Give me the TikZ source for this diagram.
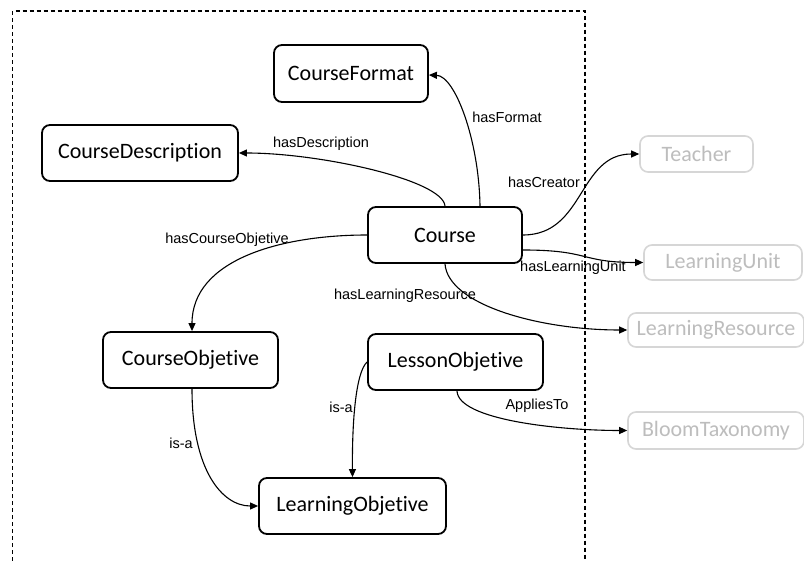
\documentclass[tikz,border=0pt]{standalone}
\usepackage{fontspec}
\setmainfont{Carlito}[Ligatures=NoCommon]
\newfontfamily\labfont{Liberation Sans}
\usetikzlibrary{arrows.meta}
\definecolor{boxgray}{HTML}{D6D6D6}
\definecolor{textgray}{HTML}{BDBDBD}
\begin{document}
\begin{tikzpicture}[x=1pt,y=-1pt,
  box/.style={draw, line width=1.8pt, rounded corners=8pt, inner sep=0pt, font=\fontsize{22}{24}\selectfont, anchor=center},
  gbox/.style={box, draw=boxgray, text=textgray, line width=1.6pt},
  lab/.style={font=\labfont\fontsize{14.5}{16}\selectfont, inner sep=0pt, anchor=center},
  rel/.style={line width=1.1pt, -{Triangle[length=8pt,width=7pt]}}]
\useasboundingbox (0,0) rectangle (804,561);
\fill[white] (0,0) rectangle (804,561);
% frame
\draw[line width=1.2pt, dash pattern=on 4pt off 3pt] (12.7,561) -- (12.7,11) -- (585,11) -- (585,561);
% nodes
\node[box, minimum width=154pt, minimum height=57pt] (fmt) at (351,73.5) {CourseFormat};
\node[box, minimum width=196pt, minimum height=56pt] (desc) at (140,153) {CourseDescription};
\node[box, minimum width=154pt, minimum height=56pt] (course) at (445,235) {Course};
\node[box, minimum width=175pt, minimum height=56pt] (cobj) at (190.5,360) {CourseObjetive};
\node[box, minimum width=175pt, minimum height=56pt] (lobj) at (455.5,362) {LessonObjetive};
\node[box, minimum width=187pt, minimum height=56pt] (learnobj) at (352.5,506) {LearningObjetive};
\node[gbox, minimum width=113pt, minimum height=36pt] (teacher) at (696.5,154) {Teacher};
\node[gbox, minimum width=158pt, minimum height=35pt] (lunit) at (723,262.5) {LearningUnit};
\node[gbox, minimum width=176pt, minimum height=34pt] (lres) at (716,330) {LearningResource};
\node[gbox, minimum width=176pt, minimum height=37pt] (bloom) at (716,430.5) {BloomTaxonomy};
% connectors
\draw[rel] ([xshift=35pt]course.north) .. controls (479,140) and (455,76) .. ([yshift=-1.5pt]fmt.east);
\draw[rel] (course.north) .. controls (443,180) and (320,153) .. (desc.east);
\draw[rel] (course.east) .. controls (585,235) and (578,154) .. (teacher.west);
\draw[rel] ([yshift=-15pt]course.east) .. controls (590,250) and (580,262.5) .. (lunit.west);
\draw[rel] (course.south) .. controls (448,305) and (540,330) .. (lres.west);
\draw[rel] (course.west) .. controls (280,235) and (192,260) .. ([xshift=1.5pt]cobj.north);
\draw[rel] ([xshift=1.5pt]cobj.south) .. controls (192,470) and (222,506) .. (learnobj.west);
\draw[rel] (lobj.west) .. controls (356,372) and (352,420) .. (learnobj.north);
\draw[rel] ([xshift=1.5pt]lobj.south) .. controls (458,420) and (560,430.5) .. (bloom.west);
% labels
\node[lab] (lfmt) at (507,117) {hasFormat};
\node[lab] (ldesc) at (321,144) {hasDescription};
\node[lab] (lcre) at (544,182) {hasCreator};
\node[lab] (lcobj) at (227,240) {hasCourseObjetive};
\node[lab] (lunitl) at (573,268) {hasLearningUnit};
\node[lab] (lresl) at (405,296) {hasLearningResource};
\node[lab] (lisa1) at (181,443) {is-a};
\node[lab] (lisa2) at (341,407) {is-a};
\node[lab] (lapp) at (537,406) {AppliesTo};
\end{tikzpicture}
\end{document}
